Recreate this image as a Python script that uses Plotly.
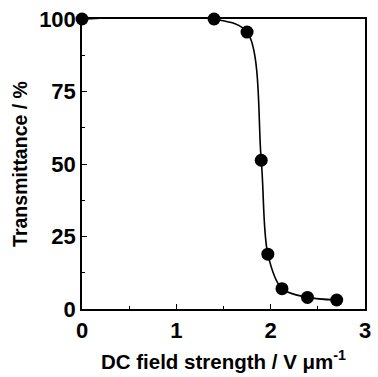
import plotly.graph_objects as go

field = [0.0, 1.40, 1.75, 1.90, 1.97, 2.12, 2.39, 2.70]
transmittance = [100.0, 100.0, 95.5, 51.3, 18.9, 7.0, 4.0, 3.1]

x_ticks = [0, 1, 2, 3]
y_ticks = [0, 25, 50, 75, 100]

fig = go.Figure()
fig.add_trace(go.Scatter(
    x=field, y=transmittance, mode="lines+markers",
    line=dict(color="black", width=1.6, shape="spline", smoothing=0.9),
    marker=dict(color="black", size=13),
    cliponaxis=False, showlegend=False,
))

font_family = "Liberation Sans, Arial, sans-serif"
axis_common = dict(
    showgrid=False, zeroline=False, showline=True, linecolor="black", linewidth=1.5,
    mirror=True, ticks="inside", ticklen=5, tickcolor="black", tickwidth=1.2,
    tickfont=dict(family=font_family, size=22, color="black", weight="bold"),
)

fig.update_layout(
    width=378, height=377,
    margin=dict(l=82, r=7, t=17, b=65),
    paper_bgcolor="white", plot_bgcolor="white",
    xaxis=dict(range=[0, 3], tickvals=x_ticks, ticklabelstandoff=1,
               minor=dict(ticks="inside", dtick=0.5, ticklen=3, tickcolor="black"),
               title=dict(text="DC field strength / V μm<sup>-1</sup>", standoff=12,
                          font=dict(family=font_family, size=20.5, color="black", weight="bold")),
               **axis_common),
    yaxis=dict(range=[0, 100], tickvals=y_ticks, ticklabelstandoff=0,
               minor=dict(ticks="inside", dtick=12.5, ticklen=3, tickcolor="black"),
               title=dict(text="Transmittance / %", standoff=6,
                          font=dict(family=font_family, size=19.5, color="black", weight="bold")),
               **axis_common),
)

fig.write_html("out.html")
